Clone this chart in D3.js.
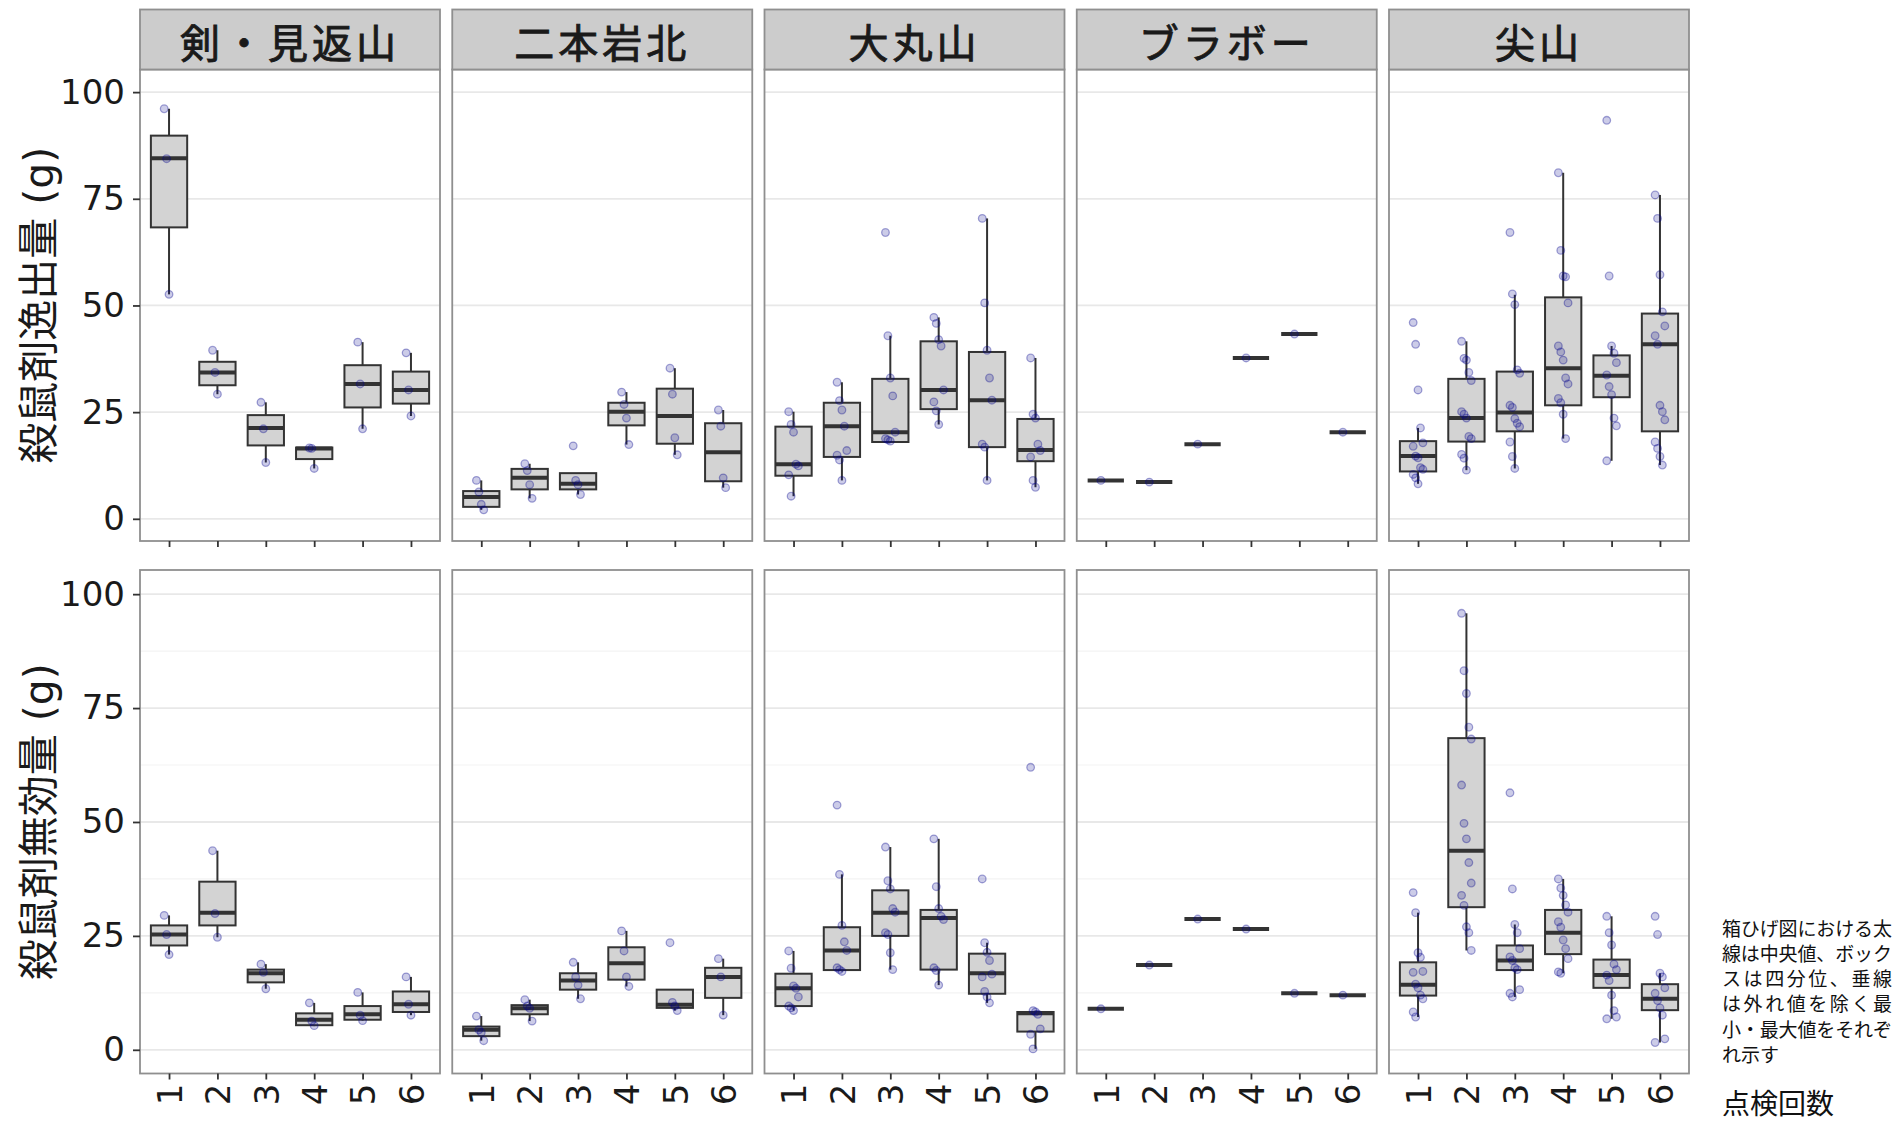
<!DOCTYPE html>
<html>
<head>
<meta charset="utf-8">
<script src="https://cdn.jsdelivr.net/npm/d3@7"></script>
<style>
  body { margin: 0; background: #ffffff; }
  svg { display: block; }
</style>
</head>
<body>
<div id="chart"></div>
<script>
"use strict"

/* ---- data ---- */
const sites = ["剣・見返山", "二本岩北", "大丸山", "ブラボー", "尖山"];
const visits = ["1", "2", "3", "4", "5", "6"];
const yTicks = [0, 25, 50, 75, 100];
const yMinor = [12.5, 37.5, 62.5, 87.5];

// box stats per site, per visit: [lower whisker, q1, median, q3, upper whisker]
const escapeBoxes = [
    [[52.6, 68.3, 84.5, 89.8, 96.1], [29.2, 31.3, 34.3, 36.8, 39.5], [13.2, 17.2, 21.3, 24.3, 27.3],
     [11.8, 14.0, 16.5, 16.7, 16.7], [21.1, 26.1, 31.6, 36.0, 41.4], [24.1, 27.0, 30.2, 34.5, 38.9]],
    [[2.1, 2.8, 5.1, 6.5, 9.0], [4.8, 6.9, 9.6, 11.7, 12.9], [5.7, 6.9, 8.2, 10.7, 10.7],
     [17.4, 21.9, 25.1, 27.2, 29.7], [15.0, 17.6, 24.1, 30.5, 35.3], [7.3, 8.8, 15.6, 22.4, 25.5]],
    [[5.3, 10.1, 12.8, 21.6, 25.1], [9.0, 14.5, 21.7, 27.2, 32.0], [17.8, 18.0, 20.3, 32.8, 42.9],
     [22.1, 25.7, 30.2, 41.6, 47.2], [9.0, 16.8, 27.8, 39.1, 70.4], [7.4, 13.5, 16.1, 23.4, 37.7]],
    [[9.0, 9.0, 9.0, 9.0, 9.0], [8.6, 8.6, 8.6, 8.6, 8.6], [17.5, 17.5, 17.5, 17.5, 17.5],
     [37.7, 37.7, 37.7, 37.7, 37.7], [43.3, 43.3, 43.3, 43.3, 43.3], [20.3, 20.3, 20.3, 20.3, 20.3]],
    [[8.2, 11.1, 14.7, 18.2, 21.3], [11.4, 18.1, 23.6, 32.8, 41.6], [11.8, 20.5, 24.9, 34.5, 52.5],
     [18.8, 26.6, 35.3, 51.9, 81.1], [13.6, 28.5, 33.5, 38.3, 40.5], [12.6, 20.5, 40.9, 48.1, 75.9]]
];

const escapePoints = [
    [[96.1, 84.4, 52.6], [39.5, 34.3, 29.2], [27.3, 21.1, 13.2],
     [16.6, 16.5, 11.8], [41.4, 31.6, 21.1], [38.9, 30.2, 24.1]],
    [[9.0, 6.3, 3.4, 2.1], [12.9, 11.3, 8.0, 4.8], [17.1, 9.0, 8.0, 5.7],
     [29.7, 26.8, 23.6, 17.4], [35.3, 29.2, 19.0, 15.0], [25.5, 21.7, 9.6, 7.3]],
    [[25.1, 22.1, 20.3, 12.8, 12.4, 10.3, 5.3],
     [32.0, 27.7, 25.5, 21.7, 16.0, 14.9, 13.8, 9.0],
     [67.1, 42.9, 33.0, 28.8, 20.3, 18.8, 18.5, 18.2],
     [47.2, 45.8, 42.0, 40.5, 30.2, 27.4, 25.3, 22.1],
     [70.4, 50.6, 39.5, 33.0, 27.8, 17.5, 16.8, 9.0],
     [37.7, 24.5, 23.6, 17.5, 16.0, 14.5, 9.0, 7.4]],
    [[9.0], [8.6], [17.5], [37.7], [43.3], [20.3]],
    [[46.0, 40.9, 30.2, 21.3, 17.8, 17.0, 14.7, 14.3, 12.0, 11.6, 10.4, 9.6, 8.2],
     [41.6, 37.6, 37.2, 34.3, 32.4, 25.1, 24.5, 23.6, 19.3, 18.8, 15.1, 14.2, 11.4],
     [67.1, 52.7, 50.2, 34.9, 34.1, 26.6, 26.1, 23.5, 22.4, 21.6, 18.0, 14.6, 11.8],
     [81.1, 62.9, 56.9, 56.7, 50.6, 40.5, 39.1, 37.2, 33.0, 31.6, 28.2, 27.2, 24.5, 18.8],
     [93.4, 56.9, 40.5, 38.8, 36.6, 33.7, 31.0, 29.1, 23.6, 21.8, 13.6],
     [75.9, 70.4, 57.2, 48.5, 45.2, 42.9, 40.9, 26.6, 25.1, 23.2, 18.0, 16.5, 14.6, 12.6]]
];

const invalidBoxes = [
    [[20.9, 22.9, 25.3, 27.3, 29.5], [24.7, 27.3, 30.1, 36.9, 43.7], [13.4, 14.8, 16.8, 17.6, 18.8],
     [5.2, 5.4, 6.6, 8.0, 10.3], [6.4, 6.6, 7.8, 9.6, 12.6], [7.6, 8.3, 10.0, 12.8, 16.0]],
    [[2.0, 3.0, 4.4, 5.1, 7.4], [6.3, 7.8, 9.1, 9.8, 11.0], [11.2, 13.2, 15.2, 16.8, 19.2],
     [13.9, 15.4, 19.0, 22.5, 26.1], [8.6, 9.2, 9.9, 13.2, 13.2], [7.6, 11.4, 16.0, 18.0, 20.0]],
    [[8.6, 9.6, 13.5, 16.7, 21.7], [17.2, 17.5, 21.8, 26.9, 38.5], [17.6, 25.0, 30.1, 35.0, 44.5],
     [14.2, 17.6, 28.9, 30.7, 46.3], [10.3, 12.3, 16.8, 21.1, 23.5], [0.2, 4.0, 8.0, 8.3, 8.6]],
    [[9.0, 9.0, 9.0, 9.0, 9.0], [18.6, 18.6, 18.6, 18.6, 18.6], [28.7, 28.7, 28.7, 28.7, 28.7],
     [26.5, 26.5, 26.5, 26.5, 26.5], [12.4, 12.4, 12.4, 12.4, 12.4], [12.0, 12.0, 12.0, 12.0, 12.0]],
    [[7.2, 11.9, 14.3, 19.2, 30.1], [21.8, 31.3, 43.7, 68.4, 95.8], [11.6, 17.5, 19.6, 22.9, 27.5],
     [16.8, 21.0, 25.7, 30.7, 37.5], [6.8, 13.6, 16.4, 19.8, 29.3], [1.6, 8.7, 11.2, 14.4, 16.8]]
];

const invalidPoints = [
    [[29.5, 25.3, 20.9], [43.7, 29.9, 24.7], [18.8, 17.0, 13.4],
     [10.3, 6.3, 5.3], [12.6, 7.6, 6.4], [16.0, 10.0, 7.6]],
    [[7.4, 4.4, 3.8, 2.0], [11.0, 9.6, 9.1, 6.3], [19.2, 16.0, 14.2, 11.2],
     [26.1, 21.7, 16.0, 13.9], [23.5, 10.4, 9.6, 8.6], [20.0, 16.0, 7.6]],
    [[21.7, 17.9, 14.0, 13.5, 11.6, 9.6, 9.2, 8.6],
     [53.7, 38.5, 27.3, 23.7, 21.8, 18.0, 17.6, 17.2],
     [44.5, 37.1, 35.3, 31.0, 30.2, 25.7, 25.3, 21.3, 17.6],
     [46.3, 35.8, 31.0, 29.3, 28.6, 18.0, 17.4, 14.2],
     [37.5, 23.5, 21.4, 19.6, 16.6, 16.0, 12.8, 11.6, 10.3],
     [62.0, 8.6, 8.3, 7.8, 4.6, 3.4, 0.2]],
    [[9.0], [18.6], [28.7], [26.5], [12.4], [12.0]],
    [[34.5, 30.1, 21.3, 20.3, 17.2, 17.0, 14.4, 13.6, 12.0, 11.2, 8.3, 7.2],
     [95.8, 83.2, 78.2, 70.8, 68.2, 58.1, 49.7, 46.3, 41.1, 36.6, 33.9, 31.7, 27.0, 25.7, 21.8],
     [56.4, 35.3, 27.5, 25.7, 22.2, 20.4, 19.6, 18.0, 17.6, 13.2, 12.4, 11.6],
     [37.5, 35.5, 33.9, 31.8, 30.2, 28.1, 26.9, 24.1, 22.2, 20.0, 17.1, 16.8],
     [29.3, 25.7, 23.0, 18.8, 17.6, 16.4, 15.2, 12.0, 8.6, 7.2, 6.8],
     [29.3, 25.3, 16.8, 16.0, 13.6, 12.4, 10.8, 9.2, 7.6, 2.4, 1.6]]
];

const noteLines = ["箱ひげ図における太", "線は中央値、ボック", "スは四分位、垂線", "は外れ値を除く最", "小・最大値をそれぞ", "れ示す"];

/* ---- layout ---- */
const width = 1901, height = 1124;
const panelLeft = 140, panelW = 300, panelStep = 312.25;
const stripTop = 9.5;
const yDomain = [-5.2, 105.3];

const rows = [
    { top: 69.5, bottom: 541, boxes: escapeBoxes, pts: escapePoints, title: "殺鼠剤逸出量 (g)", strip: true, minor: false, labels: false },
    { top: 570, bottom: 1073.5, boxes: invalidBoxes, pts: invalidPoints, title: "殺鼠剤無効量 (g)", strip: false, minor: true, labels: true }
];

const borderColor = "#8f8f8f";
const inkColor = "#333333";
const numFont = "'DejaVu Sans', 'Noto Sans CJK JP', sans-serif";
const cjkFont = "'Noto Sans CJK JP', sans-serif";

let drawing = d3.select("#chart")
    .append("svg")
    .attr("width", width)
    .attr("height", height);

drawing.append("rect")
    .attr("width", width)
    .attr("height", height)
    .attr("fill", "#ffffff");

rows.forEach(function (row) {
    let y = d3.scaleLinear().domain(yDomain).range([row.bottom, row.top]);

    // y axis title
    drawing.append("text")
        .attr("transform", "translate(37," + ((row.top + row.bottom) / 2) + ") rotate(-90)")
        .attr("dy", "0.38em")
        .attr("text-anchor", "middle")
        .attr("font-family", numFont)
        .attr("font-size", 41)
        .attr("fill", "#1a1a1a")
        .text(row.title);

    sites.forEach(function (site, s) {
        let left = panelLeft + s * panelStep;
        let x = d3.scalePoint().domain(visits).range([left, left + panelW]).padding(0.6);
        let boxW = x.step() * 0.75;
        let panel = drawing.append("g");

        panel.append("rect")
            .attr("x", left).attr("y", row.top)
            .attr("width", panelW).attr("height", row.bottom - row.top)
            .attr("fill", "#ffffff");

        if (row.minor) {
            panel.selectAll(".minor").data(yMinor).join("line")
                .attr("x1", left).attr("x2", left + panelW)
                .attr("y1", d => y(d)).attr("y2", d => y(d))
                .attr("stroke", "#f3f3f3").attr("stroke-width", 1.2);
        }
        panel.selectAll(".major").data(yTicks).join("line")
            .attr("x1", left).attr("x2", left + panelW)
            .attr("y1", d => y(d)).attr("y2", d => y(d))
            .attr("stroke", "#e8e8e8").attr("stroke-width", 1.8);

        // boxes
        row.boxes[s].forEach(function (b, v) {
            let cx = x(visits[v]);
            let g = panel.append("g");
            g.append("line")
                .attr("x1", cx).attr("x2", cx)
                .attr("y1", y(b[4])).attr("y2", y(b[3]))
                .attr("stroke", inkColor).attr("stroke-width", 2);
            g.append("line")
                .attr("x1", cx).attr("x2", cx)
                .attr("y1", y(b[1])).attr("y2", y(b[0]))
                .attr("stroke", inkColor).attr("stroke-width", 2);
            g.append("rect")
                .attr("x", cx - boxW / 2).attr("y", y(b[3]))
                .attr("width", boxW).attr("height", y(b[1]) - y(b[3]))
                .attr("fill", "#d3d3d3")
                .attr("stroke", inkColor).attr("stroke-width", 2);
            g.append("line")
                .attr("x1", cx - boxW / 2).attr("x2", cx + boxW / 2)
                .attr("y1", y(b[2])).attr("y2", y(b[2]))
                .attr("stroke", inkColor).attr("stroke-width", 4);
        });

        // jittered points
        row.pts[s].forEach(function (vals, v) {
            let cx = x(visits[v]);
            panel.selectAll(null).data(vals).join("circle")
                .attr("cx", (d, i) => cx + ((i % 5) - 2) * 0.05 * x.step())
                .attr("cy", d => y(d))
                .attr("r", 3.8)
                .attr("fill", "#00008b").attr("fill-opacity", 0.2)
                .attr("stroke", "#00008b").attr("stroke-opacity", 0.35).attr("stroke-width", 1.3);
        });

        panel.append("rect")
            .attr("x", left).attr("y", row.top)
            .attr("width", panelW).attr("height", row.bottom - row.top)
            .attr("fill", "none")
            .attr("stroke", borderColor).attr("stroke-width", 1.8);

        // x axis
        let xAxis = drawing.append("g")
            .attr("transform", "translate(0," + row.bottom + ")")
            .call(d3.axisBottom(x).tickSize(6).tickPadding(4));
        xAxis.select(".domain").remove();
        xAxis.selectAll(".tick line").attr("stroke", inkColor).attr("stroke-width", 1.8);
        if (row.labels) {
            xAxis.selectAll(".tick text")
                .attr("transform", "rotate(-90)")
                .attr("x", -10).attr("y", 0).attr("dy", "0.36em")
                .attr("text-anchor", "end")
                .attr("font-family", numFont).attr("font-size", 34)
                .attr("fill", "#1a1a1a");
        } else {
            xAxis.selectAll(".tick text").remove();
        }

        // facet strip
        if (row.strip) {
            drawing.append("rect")
                .attr("x", left).attr("y", stripTop)
                .attr("width", panelW).attr("height", row.top - stripTop)
                .attr("fill", "#cccccc")
                .attr("stroke", borderColor).attr("stroke-width", 1.8);
            drawing.append("text")
                .attr("x", left + panelW / 2).attr("y", (stripTop + row.top) / 2 + 3)
                .attr("dy", "0.38em")
                .attr("text-anchor", "middle")
                .attr("font-family", cjkFont).attr("font-size", 40)
                .attr("letter-spacing", 4)
                .attr("fill", "#1a1a1a")
                .attr("stroke", "#1a1a1a").attr("stroke-width", 0.9)
                .text(site);
        }
    });

    // y axis on first column
    let yAxis = drawing.append("g")
        .attr("transform", "translate(" + panelLeft + ",0)")
        .call(d3.axisLeft(y).tickValues(yTicks).tickSize(7).tickPadding(8));
    yAxis.select(".domain").remove();
    yAxis.selectAll(".tick line").attr("stroke", inkColor).attr("stroke-width", 1.8);
    yAxis.selectAll(".tick text")
        .attr("font-family", numFont).attr("font-size", 34)
        .attr("fill", "#1a1a1a");
});

// note on the right
drawing.append("g").selectAll("text").data(noteLines).join("text")
    .attr("x", 1722)
    .attr("y", (d, i) => 928.5 + i * 25.2)
    .attr("dy", "0.38em")
    .attr("font-family", cjkFont).attr("font-size", 19)
    .attr("fill", "#111111")
    .attr("textLength", (d, i) => i < noteLines.length - 1 ? 170 : null)
    .attr("lengthAdjust", "spacing")
    .text(d => d);

drawing.append("text")
    .attr("x", 1722).attr("y", 1104)
    .attr("dy", "0.36em")
    .attr("font-family", cjkFont).attr("font-size", 28)
    .attr("fill", "#111111")
    .text("点検回数");
</script>
</body>
</html>
